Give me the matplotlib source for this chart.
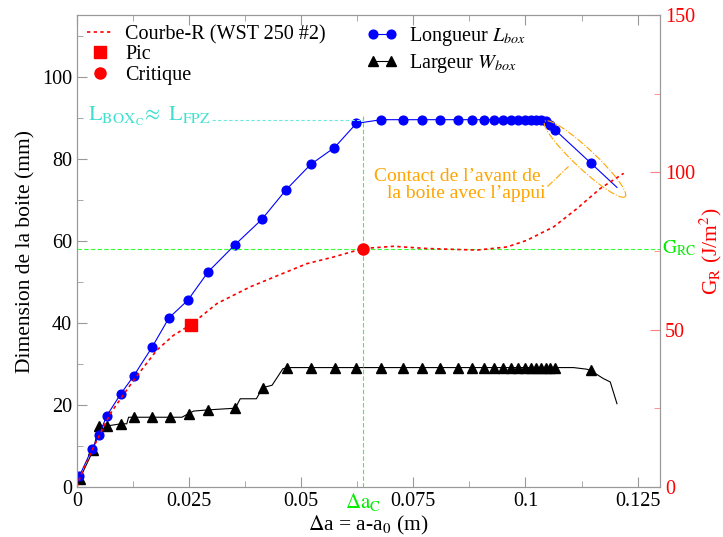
import numpy as np
import matplotlib.pyplot as plt
from matplotlib.lines import Line2D

plt.rcParams['font.family'] = ['Liberation Serif', 'DejaVu Serif']
plt.rcParams['mathtext.fontset'] = 'stix'

# Longueur de la boite L_box (mm), markers
da_L = [0.0005, 0.0033, 0.0049, 0.0066, 0.0097, 0.0126, 0.0167, 0.0205, 0.0247,
        0.0293, 0.0352, 0.0412, 0.0466, 0.0521, 0.0574, 0.0623,
        0.0678, 0.0726, 0.0770, 0.0810, 0.0849, 0.0881, 0.0907, 0.0929, 0.0950,
        0.0968, 0.0984, 0.0999, 0.1012, 0.1024, 0.1035, 0.1046, 0.1055, 0.1065,
        0.1145]
L_box = [2.6, 9.2, 12.6, 17.3, 22.6, 27.0, 34.0, 41.2, 45.5,
         52.5, 59.0, 65.2, 72.4, 78.6, 82.7, 88.6,
         89.5, 89.5, 89.5, 89.5, 89.5, 89.5, 89.5, 89.5, 89.5,
         89.5, 89.5, 89.5, 89.5, 89.5, 89.5, 89.3, 88.1, 87.1,
         79.0]
# last recorded point of the L_box curve (no marker)
da_L_end = 0.1204
L_end = 73.0

# Largeur de la boite W_box (mm), markers
da_W = [0.0006, 0.0036, 0.0049, 0.0068, 0.0098, 0.0128, 0.0167, 0.0207, 0.0249,
        0.0293, 0.0353, 0.0414, 0.0468, 0.0522, 0.0576, 0.0623,
        0.0678, 0.0726, 0.0770, 0.0810, 0.0849, 0.0881, 0.0907, 0.0929, 0.0950,
        0.0968, 0.0984, 0.0999, 0.1012, 0.1024, 0.1035, 0.1046, 0.1055, 0.1065,
        0.1145]
W_box = [2.0, 8.9, 14.9, 14.9, 15.4, 17.0, 17.0, 17.0, 17.9,
         18.8, 19.2, 24.2, 29.1, 29.1, 29.1, 29.1,
         29.1, 29.1, 29.1, 29.1, 29.1, 29.1, 29.1, 29.1, 29.1,
         29.1, 29.1, 29.1, 29.1, 29.1, 29.1, 29.1, 29.1, 29.1,
         28.4]
# intermediate points of the W_box curve (no marker)
da_W_extra = [0.0111, 0.0115, 0.0234, 0.0260, 0.0364, 0.0400, 0.0435, 0.0459,
              0.1107, 0.1137, 0.1174, 0.1189, 0.1204]
W_extra = [15.4, 17.0, 17.0, 18.5, 21.5, 21.5, 24.8, 28.8,
           29.1, 28.7, 26.4, 25.6, 20.3]

# Courbe-R, G_R (J/m2)
da_R = [0.0, 0.0007, 0.0037, 0.0074, 0.0126, 0.0178, 0.0215, 0.0254, 0.0312,
        0.0386, 0.0468, 0.0513, 0.0572, 0.0638, 0.0706, 0.0780, 0.0892, 0.0959,
        0.1003, 0.1063, 0.1115, 0.1167, 0.1219]
G_R = [0.0, 3.2, 12.7, 23.3, 33.9, 43.5, 48.2, 51.6, 58.3,
       63.6, 68.4, 71.0, 73.1, 75.8, 76.5, 75.8, 75.3, 76.3,
       78.4, 82.7, 88.5, 94.9, 99.7]
pic = (0.0254, 51.6)
critique = (0.0638, 75.8)
L_fpz = 89.5

fig = plt.figure(figsize=(7.23, 5.37), dpi=100)
ax = fig.add_axes([0.1065, 0.0931, 0.8064, 0.8789])
ax2 = ax.twinx()

ax.set_xlim(0, 0.13)
ax.set_ylim(0, 115)
ax2.set_ylim(0, 150)

# W and L curves
wx = np.array(da_W + da_W_extra)
wy = np.array(W_box + W_extra)
o = np.argsort(wx)
ax.plot(wx[o], wy[o], '-', color='black', lw=0.8)
ax.plot(da_W, W_box, '^', color='black', ms=7.5, ls='none')
ax.plot(da_L + [da_L_end], L_box + [L_end], '-', color='blue', lw=0.8)
ax.plot(da_L, L_box, 'o', color='blue', ms=6.3, ls='none')

# critical markers / guide lines
ax.plot([critique[0], critique[0]], [0, L_fpz + 1], '--', color='#33ff33', lw=0.8, dashes=(4, 2))
ax.plot([0.0301, critique[0]], [L_fpz, L_fpz], '--', color='#70e8e0', lw=0.8, dashes=(3, 2))
ax.text(0.0298, L_fpz - 0.3, r'$\mathrm{L_{BOX_C}\!\approx\ L_{FPZ}}$', color='#40e0d0',
        fontsize=16, ha='right', va='baseline')

ax2.axhline(critique[1], color='#33ff33', ls='--', lw=0.8, dashes=(4, 2))
ax2.plot(da_R, G_R, color='red', lw=1.2, ls=(0, (2, 2)))
ax2.plot(*pic, 's', color='red', ms=8)
ax2.plot(*critique, 'o', color='red', ms=8)

# ellipse around the end of L_box (drawn in pixel space)
t = np.linspace(0, 2 * np.pi, 200)
th = np.arctan2(72, 77)
cx, cy, a, b = 585, 159, 55, 10
px = cx + a * np.cos(th) * np.cos(t) - b * np.sin(th) * np.sin(t)
py = cy + a * np.sin(th) * np.cos(t) + b * np.cos(th) * np.sin(t)
H = fig.bbox.height
pts = ax.transData.inverted().transform(np.column_stack([px, H - py]))
ax.plot(pts[:, 0], pts[:, 1], color='orange', lw=0.8, ls='-.')
ax.plot([0.1049, 0.1096], [73.2, 78.1], color='orange', lw=0.8, ls='-.')
ax.text(0.1044, 73.5, 'Contact de l\u2019avant de \nla boite avec l\u2019appui', color='orange',
        fontsize=14, ha='right', va='center', multialignment='right', linespacing=1.0)

# axes
ax.set_xticks([0, 0.025, 0.05, 0.075, 0.1, 0.125])
ax.set_xticklabels(['0', '0.025', '0.05', '0.075', '0.1', '0.125'])
ax.set_xticks(np.arange(0.0125, 0.13, 0.025), minor=True)
ax.set_yticks([0, 20, 40, 60, 80, 100])
ax.set_yticks([10, 30, 50, 70, 90, 110], minor=True)
ax2.set_yticks([0, 50, 100, 150])
ax2.set_yticks([25, 75, 125], minor=True)

for a_ in (ax, ax2):
    for s in a_.spines.values():
        s.set_color('#999999')
ax.tick_params(which='both', direction='in', top=True, right=False, color='#999999',
               labelsize=14.5)
ax.tick_params(which='major', length=7)
ax.tick_params(which='minor', length=4)
ax2.tick_params(which='both', direction='in', color='#ff8080', labelcolor='red', labelsize=14.5)
ax2.tick_params(which='major', length=7)
ax2.tick_params(which='minor', length=4)

ax.set_xlabel(r'$\Delta$a = a-a$_0$ (m)', fontsize=15.5, labelpad=2)
ax.set_ylabel('Dimension de la boite (mm)', fontsize=15.5, labelpad=5)
ax2.set_ylabel(r'G$_\mathrm{R}$ (J/m$^2$)', fontsize=15.5, color='red', labelpad=2)

ax.text(critique[0], -1.0, r'$\Delta\mathrm{a_C}$', color='#00ee00', fontsize=15,
        ha='center', va='top')
ax2.text(0.1305, critique[1], r'$\mathrm{G_{RC}}$', color='#00ee00', fontsize=14,
         ha='left', va='center')

# legends
h_red = [Line2D([], [], color='red', lw=1.2, ls=(0, (2, 2))),
         Line2D([], [], color='red', marker='s', ls='none', ms=8),
         Line2D([], [], color='red', marker='o', ls='none', ms=8)]
leg1 = ax2.legend(h_red, ['Courbe-R (WST 250 #2)', 'Pic', 'Critique'], loc='upper left',
                  bbox_to_anchor=(0.0, 1.0), frameon=False, fontsize=14.5, handlelength=1.3,
                  handletextpad=0.6, labelspacing=0.05, borderaxespad=0.1)
h_lw = [Line2D([], [], color='blue', marker='o', lw=0.8, ms=6.3),
        Line2D([], [], color='black', marker='^', lw=0.8, ms=7.5)]
leg2 = ax2.legend(h_lw, [r'Longueur $L_{box}$', r'Largeur $W_{box}$'], loc='upper left',
                  bbox_to_anchor=(0.48, 1.0), frameon=False, fontsize=14.5, numpoints=2,
                  handlelength=1.5, handletextpad=0.6, labelspacing=0.2, borderaxespad=0.1)
ax2.add_artist(leg1)

fig.savefig('out.png', dpi=100)
